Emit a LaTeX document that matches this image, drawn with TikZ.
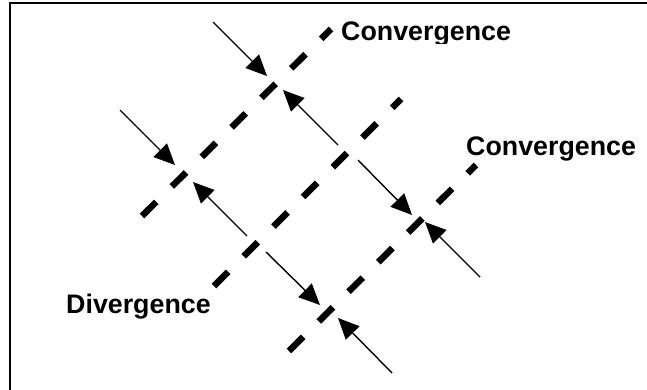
\documentclass[tikz,border=0pt]{standalone}
\usepackage{fontspec}
\setsansfont{Liberation Sans}
\usetikzlibrary{arrows.meta}

\tikzset{
  front/.style={line width=6.5pt, dash pattern=on 20pt off 22pt},
  flow/.style={line width=1.4pt, -{Triangle[length=21pt, width=19pt]}},
  zonelabel/.style={font=\sffamily\bfseries\fontsize{26.8}{31}\selectfont,
                    anchor=base west, inner sep=0pt}
}

\begin{document}
\begin{tikzpicture}[x=1pt, y=-1pt]
  \useasboundingbox (0,0) rectangle (647,389);
  \clip (0,0) rectangle (647,389);
  % frame, only its top and left edges fall inside
  \draw[line width=2pt] (10,3) rectangle (700,450);

  % the three fronts
  \coordinate (frA0) at (142,216); \coordinate (frA1) at (331,29);
  \coordinate (frB0) at (214,286); \coordinate (frB1) at (401,99);
  \coordinate (frC0) at (289,351); \coordinate (frC1) at (476,165);
  \draw[front] (frA0) -- (frA1);
  \draw[front] (frB0) -- (frB1);
  \draw[front] (frC0) -- (frC1);

  % motion of the plates
  \coordinate (mvA0) at (213,22);  \coordinate (mvA1) at (267,76);
  \coordinate (mvB0) at (338,145); \coordinate (mvB1) at (283,90);
  \coordinate (mvC0) at (120,110); \coordinate (mvC1) at (175,165);
  \coordinate (mvD0) at (247,236); \coordinate (mvD1) at (193,182);
  \coordinate (mvE0) at (266,252); \coordinate (mvE1) at (320,305);
  \coordinate (mvF0) at (392,373); \coordinate (mvF1) at (338,318);
  \coordinate (mvG0) at (358,160); \coordinate (mvG1) at (412,215);
  \coordinate (mvH0) at (480,277); \coordinate (mvH1) at (425,222);
  \foreach \m in {A,B,C,D,E,F,G,H}
    \draw[flow] (mv\m0) -- (mv\m1);

  % the top label is cut off just under its baseline
  \begin{scope}
    \clip (330,0) rectangle (560,43);
    \node[zonelabel] (convTop) at (341,40.5) {Convergence};
  \end{scope}
  \node[zonelabel] (convRight) at (466,155.5) {Convergence};
  \node[zonelabel] (divLeft) at (66,313) {Divergence};
\end{tikzpicture}
\end{document}
